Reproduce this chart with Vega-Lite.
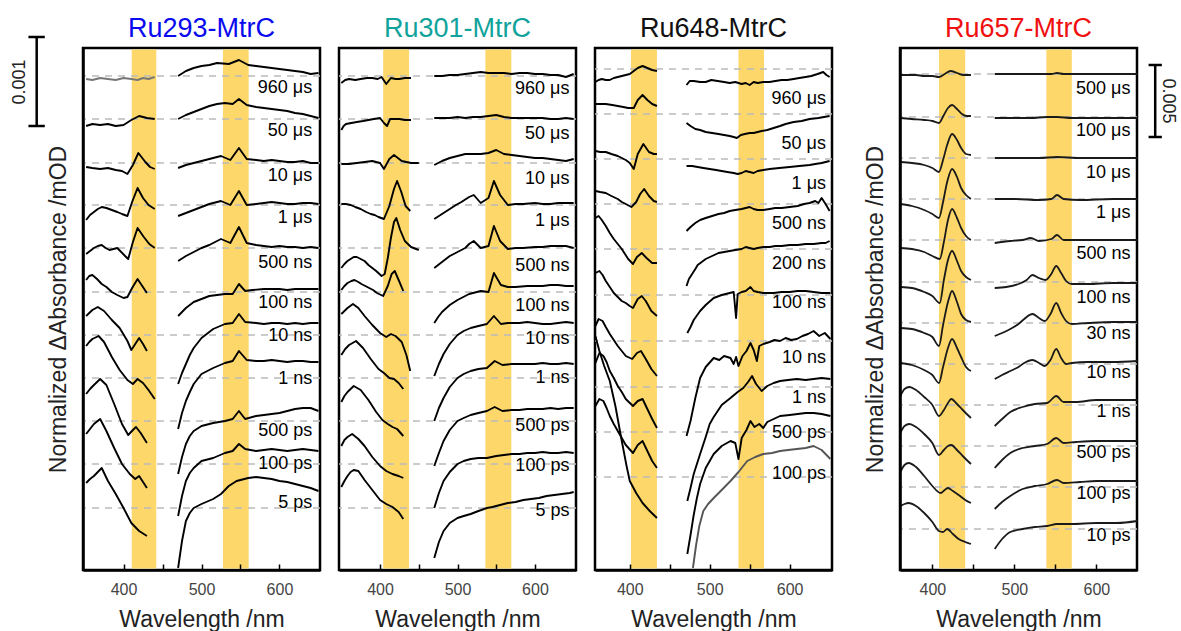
{
"$schema": "https://vega.github.io/schema/vega-lite/v6.json",
"autosize": {"type": "pad"},
"padding": {"left": 9, "top": 13, "right": 0, "bottom": 0},
"background": "white",
"spacing": 19,
"bounds": "flush",
"datasets": {
"c1": [
{"g":0,"x":352,"y":491},{"g":0,"x":360,"y":490},{"g":0,"x":370,"y":492},{"g":0,"x":380,"y":491},{"g":0,"x":390,"y":490},{"g":0,"x":400,"y":492},{"g":0,"x":410,"y":491},{"g":0,"x":418,"y":490},{"g":0,"x":425,"y":492},{"g":0,"x":432,"y":491},{"g":0,"x":440,"y":493},
{"g":1,"x":470,"y":494},{"g":1,"x":480,"y":499},{"g":1,"x":490,"y":502},{"g":1,"x":500,"y":504},{"g":1,"x":510,"y":505},{"g":1,"x":520,"y":507},{"g":1,"x":535,"y":506},{"g":1,"x":548,"y":510},{"g":1,"x":560,"y":505},{"g":1,"x":570,"y":504},{"g":1,"x":580,"y":503},{"g":1,"x":590,"y":502},{"g":1,"x":600,"y":501},{"g":1,"x":610,"y":500},{"g":1,"x":620,"y":499},{"g":1,"x":630,"y":498},{"g":1,"x":640,"y":496},{"g":1,"x":650,"y":497},
{"g":2,"x":352,"y":444},{"g":2,"x":360,"y":446},{"g":2,"x":370,"y":445},{"g":2,"x":380,"y":446},{"g":2,"x":390,"y":444},{"g":2,"x":400,"y":445},{"g":2,"x":410,"y":450},{"g":2,"x":420,"y":454},{"g":2,"x":430,"y":452},{"g":2,"x":440,"y":451},
{"g":3,"x":470,"y":451},{"g":3,"x":480,"y":455},{"g":3,"x":490,"y":458},{"g":3,"x":500,"y":461},{"g":3,"x":510,"y":464},{"g":3,"x":520,"y":466},{"g":3,"x":530,"y":467},{"g":3,"x":540,"y":466},{"g":3,"x":548,"y":471},{"g":3,"x":558,"y":465},{"g":3,"x":570,"y":463},{"g":3,"x":580,"y":462},{"g":3,"x":590,"y":461},{"g":3,"x":600,"y":460},{"g":3,"x":610,"y":459},{"g":3,"x":620,"y":457},{"g":3,"x":630,"y":456},{"g":3,"x":640,"y":454},{"g":3,"x":650,"y":452},
{"g":4,"x":352,"y":403},{"g":4,"x":360,"y":402},{"g":4,"x":370,"y":401},{"g":4,"x":380,"y":402},{"g":4,"x":390,"y":400},{"g":4,"x":398,"y":399},{"g":4,"x":405,"y":396},{"g":4,"x":412,"y":405},{"g":4,"x":419,"y":417},{"g":4,"x":428,"y":408},{"g":4,"x":434,"y":403},{"g":4,"x":440,"y":401},
{"g":5,"x":470,"y":402},{"g":5,"x":480,"y":405},{"g":5,"x":490,"y":407},{"g":5,"x":500,"y":409},{"g":5,"x":510,"y":411},{"g":5,"x":525,"y":414},{"g":5,"x":537,"y":410},{"g":5,"x":548,"y":422},{"g":5,"x":558,"y":411},{"g":5,"x":570,"y":410},{"g":5,"x":580,"y":409},{"g":5,"x":590,"y":410},{"g":5,"x":600,"y":409},{"g":5,"x":610,"y":408},{"g":5,"x":620,"y":408},{"g":5,"x":630,"y":409},{"g":5,"x":640,"y":407},{"g":5,"x":650,"y":407},
{"g":6,"x":352,"y":350},{"g":6,"x":357,"y":355},{"g":6,"x":362,"y":358},{"g":6,"x":367,"y":361},{"g":6,"x":372,"y":363},{"g":6,"x":378,"y":362},{"g":6,"x":385,"y":360},{"g":6,"x":392,"y":358},{"g":6,"x":398,"y":356},{"g":6,"x":405,"y":354},{"g":6,"x":411,"y":368},{"g":6,"x":418,"y":382},{"g":6,"x":425,"y":372},{"g":6,"x":432,"y":365},{"g":6,"x":440,"y":361},
{"g":7,"x":470,"y":354},{"g":7,"x":480,"y":357},{"g":7,"x":490,"y":360},{"g":7,"x":500,"y":363},{"g":7,"x":510,"y":366},{"g":7,"x":525,"y":369},{"g":7,"x":537,"y":365},{"g":7,"x":548,"y":379},{"g":7,"x":558,"y":365},{"g":7,"x":570,"y":366},{"g":7,"x":580,"y":367},{"g":7,"x":590,"y":368},{"g":7,"x":600,"y":367},{"g":7,"x":610,"y":366},{"g":7,"x":620,"y":366},{"g":7,"x":630,"y":367},{"g":7,"x":640,"y":367},{"g":7,"x":650,"y":366},
{"g":8,"x":352,"y":316},{"g":8,"x":357,"y":319},{"g":8,"x":362,"y":322},{"g":8,"x":367,"y":324},{"g":8,"x":372,"y":325},{"g":8,"x":377,"y":322},{"g":8,"x":382,"y":320},{"g":8,"x":387,"y":321},{"g":8,"x":392,"y":322},{"g":8,"x":397,"y":318},{"g":8,"x":402,"y":314},{"g":8,"x":406,"y":311},{"g":8,"x":412,"y":328},{"g":8,"x":418,"y":342},{"g":8,"x":426,"y":333},{"g":8,"x":433,"y":326},{"g":8,"x":440,"y":322},
{"g":9,"x":470,"y":309},{"g":9,"x":480,"y":314},{"g":9,"x":490,"y":318},{"g":9,"x":500,"y":322},{"g":9,"x":510,"y":325},{"g":9,"x":525,"y":331},{"g":9,"x":537,"y":327},{"g":9,"x":548,"y":343},{"g":9,"x":558,"y":327},{"g":9,"x":570,"y":325},{"g":9,"x":580,"y":324},{"g":9,"x":590,"y":323},{"g":9,"x":600,"y":324},{"g":9,"x":610,"y":323},{"g":9,"x":620,"y":323},{"g":9,"x":630,"y":322},{"g":9,"x":640,"y":323},{"g":9,"x":650,"y":322},
{"g":10,"x":352,"y":290},{"g":10,"x":356,"y":294},{"g":10,"x":360,"y":295},{"g":10,"x":366,"y":291},{"g":10,"x":372,"y":286},{"g":10,"x":378,"y":283},{"g":10,"x":385,"y":278},{"g":10,"x":392,"y":275},{"g":10,"x":400,"y":272},{"g":10,"x":405,"y":273},{"g":10,"x":411,"y":282},{"g":10,"x":418,"y":291},{"g":10,"x":424,"y":284},{"g":10,"x":430,"y":277},
{"g":11,"x":470,"y":254},{"g":11,"x":475,"y":258},{"g":11,"x":480,"y":262},{"g":11,"x":490,"y":268},{"g":11,"x":500,"y":271},{"g":11,"x":510,"y":274},{"g":11,"x":520,"y":275},{"g":11,"x":530,"y":276},{"g":11,"x":540,"y":276},{"g":11,"x":548,"y":286},{"g":11,"x":556,"y":279},{"g":11,"x":565,"y":280},{"g":11,"x":580,"y":281},{"g":11,"x":590,"y":281},{"g":11,"x":600,"y":281},{"g":11,"x":610,"y":280},{"g":11,"x":620,"y":281},{"g":11,"x":635,"y":281},{"g":11,"x":650,"y":281},
{"g":12,"x":352,"y":254},{"g":12,"x":356,"y":257},{"g":12,"x":360,"y":260},{"g":12,"x":367,"y":263},{"g":12,"x":375,"y":259},{"g":12,"x":385,"y":250},{"g":12,"x":395,"y":242},{"g":12,"x":405,"y":229},{"g":12,"x":410,"y":220},{"g":12,"x":415,"y":226},{"g":12,"x":420,"y":232},{"g":12,"x":425,"y":226},{"g":12,"x":430,"y":219},
{"g":13,"x":470,"y":186},{"g":13,"x":475,"y":197},{"g":13,"x":480,"y":206},{"g":13,"x":485,"y":215},{"g":13,"x":490,"y":222},{"g":13,"x":500,"y":232},{"g":13,"x":515,"y":241},{"g":13,"x":530,"y":246},{"g":13,"x":540,"y":247},{"g":13,"x":548,"y":256},{"g":13,"x":556,"y":248},{"g":13,"x":570,"y":247},{"g":13,"x":580,"y":246},{"g":13,"x":590,"y":247},{"g":13,"x":600,"y":247},{"g":13,"x":610,"y":246},{"g":13,"x":620,"y":247},{"g":13,"x":630,"y":246},{"g":13,"x":640,"y":247},{"g":13,"x":650,"y":247},
{"g":14,"x":352,"y":224},{"g":14,"x":356,"y":228},{"g":14,"x":360,"y":231},{"g":14,"x":368,"y":234},{"g":14,"x":375,"y":228},{"g":14,"x":385,"y":213},{"g":14,"x":395,"y":200},{"g":14,"x":405,"y":190},{"g":14,"x":412,"y":186},{"g":14,"x":418,"y":191},{"g":14,"x":425,"y":187},{"g":14,"x":432,"y":180},{"g":14,"x":440,"y":171},
{"g":15,"x":470,"y":141},{"g":15,"x":475,"y":157},{"g":15,"x":480,"y":169},{"g":15,"x":485,"y":178},{"g":15,"x":490,"y":186},{"g":15,"x":500,"y":196},{"g":15,"x":515,"y":202},{"g":15,"x":530,"y":207},{"g":15,"x":540,"y":209},{"g":15,"x":548,"y":219},{"g":15,"x":558,"y":210},{"g":15,"x":570,"y":209},{"g":15,"x":580,"y":209},{"g":15,"x":590,"y":210},{"g":15,"x":600,"y":209},{"g":15,"x":610,"y":208},{"g":15,"x":620,"y":209},{"g":15,"x":630,"y":209},{"g":15,"x":640,"y":208},{"g":15,"x":650,"y":208},
{"g":16,"x":352,"y":176},{"g":16,"x":357,"y":181},{"g":16,"x":362,"y":185},{"g":16,"x":370,"y":191},{"g":16,"x":378,"y":185},{"g":16,"x":388,"y":166},{"g":16,"x":398,"y":146},{"g":16,"x":406,"y":135},{"g":16,"x":412,"y":140},{"g":16,"x":416,"y":143},{"g":16,"x":422,"y":137},{"g":16,"x":430,"y":127},
{"g":17,"x":470,"y":96},{"g":17,"x":475,"y":113},{"g":17,"x":480,"y":126},{"g":17,"x":485,"y":134},{"g":17,"x":490,"y":139},{"g":17,"x":500,"y":144},{"g":17,"x":515,"y":147},{"g":17,"x":530,"y":149},{"g":17,"x":540,"y":151},{"g":17,"x":548,"y":159},{"g":17,"x":556,"y":151},{"g":17,"x":570,"y":154},{"g":17,"x":580,"y":155},{"g":17,"x":590,"y":156},{"g":17,"x":600,"y":157},{"g":17,"x":610,"y":159},{"g":17,"x":620,"y":161},{"g":17,"x":630,"y":162},{"g":17,"x":640,"y":162},{"g":17,"x":650,"y":159},
{"g":18,"x":352,"y":136},{"g":18,"x":357,"y":141},{"g":18,"x":362,"y":146},{"g":18,"x":370,"y":151},{"g":18,"x":378,"y":139},{"g":18,"x":388,"y":122},{"g":18,"x":398,"y":106},{"g":18,"x":408,"y":96},{"g":18,"x":415,"y":91},{"g":18,"x":420,"y":94},{"g":18,"x":425,"y":88},{"g":18,"x":430,"y":82},
{"g":19,"x":470,"y":54},{"g":19,"x":475,"y":74},{"g":19,"x":480,"y":89},{"g":19,"x":485,"y":97},{"g":19,"x":490,"y":102},{"g":19,"x":500,"y":109},{"g":19,"x":515,"y":112},{"g":19,"x":530,"y":117},{"g":19,"x":540,"y":119},{"g":19,"x":548,"y":126},{"g":19,"x":556,"y":121},{"g":19,"x":570,"y":119},{"g":19,"x":580,"y":120},{"g":19,"x":590,"y":121},{"g":19,"x":600,"y":120},{"g":19,"x":610,"y":119},{"g":19,"x":620,"y":120},{"g":19,"x":630,"y":121},{"g":19,"x":640,"y":120},{"g":19,"x":650,"y":119},
{"g":20,"x":352,"y":87},{"g":20,"x":357,"y":91},{"g":20,"x":362,"y":94},{"g":20,"x":367,"y":98},{"g":20,"x":372,"y":102},{"g":20,"x":380,"y":89},{"g":20,"x":390,"y":76},{"g":20,"x":400,"y":62},{"g":20,"x":410,"y":47},{"g":20,"x":420,"y":39},{"g":20,"x":430,"y":34},
{"g":21,"x":470,"y":2},{"g":21,"x":475,"y":29},{"g":21,"x":480,"y":49},{"g":21,"x":485,"y":57},{"g":21,"x":490,"y":62},{"g":21,"x":500,"y":66},{"g":21,"x":515,"y":71},{"g":21,"x":525,"y":76},{"g":21,"x":535,"y":84},{"g":21,"x":545,"y":89},{"g":21,"x":560,"y":92},{"g":21,"x":570,"y":93},{"g":21,"x":580,"y":92},{"g":21,"x":590,"y":91},{"g":21,"x":600,"y":89},{"g":21,"x":610,"y":88},{"g":21,"x":620,"y":86},{"g":21,"x":630,"y":84},{"g":21,"x":640,"y":82},{"g":21,"x":650,"y":79}
],
"c2": [
{"g":0,"x":350,"y":487},{"g":0,"x":355,"y":490},{"g":0,"x":360,"y":491},{"g":0,"x":368,"y":490},{"g":0,"x":375,"y":491},{"g":0,"x":383,"y":492},{"g":0,"x":390,"y":492},{"g":0,"x":397,"y":491},{"g":0,"x":402,"y":493},{"g":0,"x":408,"y":486},{"g":0,"x":414,"y":492},{"g":0,"x":420,"y":491},{"g":0,"x":425,"y":491},{"g":0,"x":432,"y":492},{"g":0,"x":440,"y":492},
{"g":1,"x":470,"y":494},{"g":1,"x":480,"y":494},{"g":1,"x":490,"y":495},{"g":1,"x":500,"y":495},{"g":1,"x":510,"y":496},{"g":1,"x":520,"y":497},{"g":1,"x":530,"y":498},{"g":1,"x":540,"y":497},{"g":1,"x":550,"y":497},{"g":1,"x":560,"y":497},{"g":1,"x":570,"y":496},{"g":1,"x":580,"y":497},{"g":1,"x":590,"y":497},{"g":1,"x":600,"y":496},{"g":1,"x":610,"y":496},{"g":1,"x":620,"y":495},{"g":1,"x":630,"y":495},{"g":1,"x":640,"y":493},{"g":1,"x":650,"y":496},
{"g":2,"x":350,"y":440},{"g":2,"x":353,"y":444},{"g":2,"x":356,"y":446},{"g":2,"x":363,"y":447},{"g":2,"x":370,"y":448},{"g":2,"x":378,"y":449},{"g":2,"x":385,"y":450},{"g":2,"x":392,"y":451},{"g":2,"x":400,"y":452},{"g":2,"x":405,"y":447},{"g":2,"x":409,"y":444},{"g":2,"x":413,"y":451},{"g":2,"x":419,"y":451},{"g":2,"x":425,"y":451},{"g":2,"x":432,"y":450},{"g":2,"x":440,"y":450},
{"g":3,"x":470,"y":452},{"g":3,"x":480,"y":452},{"g":3,"x":490,"y":452},{"g":3,"x":500,"y":453},{"g":3,"x":510,"y":452},{"g":3,"x":520,"y":453},{"g":3,"x":530,"y":453},{"g":3,"x":540,"y":454},{"g":3,"x":550,"y":455},{"g":3,"x":560,"y":453},{"g":3,"x":570,"y":452},{"g":3,"x":580,"y":452},{"g":3,"x":590,"y":452},{"g":3,"x":600,"y":452},{"g":3,"x":610,"y":452},{"g":3,"x":620,"y":451},{"g":3,"x":630,"y":451},{"g":3,"x":640,"y":452},{"g":3,"x":650,"y":451},
{"g":4,"x":350,"y":406},{"g":4,"x":360,"y":406},{"g":4,"x":370,"y":407},{"g":4,"x":380,"y":408},{"g":4,"x":390,"y":409},{"g":4,"x":400,"y":407},{"g":4,"x":405,"y":401},{"g":4,"x":412,"y":411},{"g":4,"x":418,"y":415},{"g":4,"x":428,"y":409},{"g":4,"x":440,"y":407},{"g":4,"x":450,"y":407},
{"g":5,"x":470,"y":405},{"g":5,"x":480,"y":409},{"g":5,"x":490,"y":412},{"g":5,"x":500,"y":414},{"g":5,"x":510,"y":416},{"g":5,"x":520,"y":416},{"g":5,"x":530,"y":416},{"g":5,"x":540,"y":417},{"g":5,"x":550,"y":420},{"g":5,"x":560,"y":416},{"g":5,"x":570,"y":415},{"g":5,"x":580,"y":414},{"g":5,"x":590,"y":413},{"g":5,"x":600,"y":412},{"g":5,"x":610,"y":412},{"g":5,"x":620,"y":411},{"g":5,"x":630,"y":410},{"g":5,"x":640,"y":409},{"g":5,"x":650,"y":411},
{"g":6,"x":350,"y":366},{"g":6,"x":356,"y":366},{"g":6,"x":362,"y":365},{"g":6,"x":368,"y":363},{"g":6,"x":375,"y":361},{"g":6,"x":382,"y":358},{"g":6,"x":388,"y":356},{"g":6,"x":393,"y":355},{"g":6,"x":398,"y":353},{"g":6,"x":405,"y":351},{"g":6,"x":412,"y":364},{"g":6,"x":418,"y":381},{"g":6,"x":422,"y":389},{"g":6,"x":427,"y":379},{"g":6,"x":433,"y":364},{"g":6,"x":439,"y":359},
{"g":7,"x":470,"y":351},{"g":7,"x":480,"y":356},{"g":7,"x":490,"y":361},{"g":7,"x":498,"y":365},{"g":7,"x":505,"y":368},{"g":7,"x":515,"y":373},{"g":7,"x":521,"y":375},{"g":7,"x":530,"y":367},{"g":7,"x":540,"y":372},{"g":7,"x":547,"y":389},{"g":7,"x":555,"y":375},{"g":7,"x":565,"y":365},{"g":7,"x":575,"y":366},{"g":7,"x":585,"y":366},{"g":7,"x":600,"y":367},{"g":7,"x":610,"y":366},{"g":7,"x":620,"y":366},{"g":7,"x":630,"y":367},{"g":7,"x":640,"y":367},{"g":7,"x":650,"y":367},
{"g":8,"x":350,"y":302},{"g":8,"x":354,"y":306},{"g":8,"x":358,"y":309},{"g":8,"x":362,"y":311},{"g":8,"x":366,"y":313},{"g":8,"x":370,"y":313},{"g":8,"x":375,"y":311},{"g":8,"x":380,"y":309},{"g":8,"x":385,"y":305},{"g":8,"x":390,"y":302},{"g":8,"x":395,"y":299},{"g":8,"x":402,"y":294},{"g":8,"x":406,"y":296},{"g":8,"x":410,"y":312},{"g":8,"x":414,"y":332},{"g":8,"x":418,"y":348},{"g":8,"x":421,"y":352},{"g":8,"x":426,"y":340},{"g":8,"x":432,"y":329},{"g":8,"x":440,"y":323},{"g":8,"x":450,"y":320},
{"g":9,"x":470,"y":302},{"g":9,"x":480,"y":308},{"g":9,"x":490,"y":314},{"g":9,"x":500,"y":318},{"g":9,"x":510,"y":322},{"g":9,"x":515,"y":326},{"g":9,"x":521,"y":329},{"g":9,"x":530,"y":322},{"g":9,"x":540,"y":324},{"g":9,"x":547,"y":344},{"g":9,"x":555,"y":329},{"g":9,"x":565,"y":321},{"g":9,"x":575,"y":322},{"g":9,"x":585,"y":322},{"g":9,"x":600,"y":323},{"g":9,"x":610,"y":323},{"g":9,"x":620,"y":324},{"g":9,"x":630,"y":324},{"g":9,"x":640,"y":324},{"g":9,"x":650,"y":322},
{"g":10,"x":350,"y":280},{"g":10,"x":354,"y":284},{"g":10,"x":358,"y":287},{"g":10,"x":363,"y":289},{"g":10,"x":367,"y":290},{"g":10,"x":372,"y":288},{"g":10,"x":376,"y":286},{"g":10,"x":381,"y":284},{"g":10,"x":386,"y":282},{"g":10,"x":391,"y":280},{"g":10,"x":396,"y":277},{"g":10,"x":404,"y":274},{"g":10,"x":410,"y":284},{"g":10,"x":415,"y":296},{"g":10,"x":419,"y":299},{"g":10,"x":424,"y":290},{"g":10,"x":430,"y":279},
{"g":11,"x":470,"y":247},{"g":11,"x":475,"y":253},{"g":11,"x":480,"y":258},{"g":11,"x":490,"y":265},{"g":11,"x":500,"y":270},{"g":11,"x":515,"y":276},{"g":11,"x":530,"y":279},{"g":11,"x":540,"y":278},{"g":11,"x":547,"y":297},{"g":11,"x":556,"y":285},{"g":11,"x":565,"y":283},{"g":11,"x":575,"y":283},{"g":11,"x":590,"y":284},{"g":11,"x":600,"y":284},{"g":11,"x":610,"y":284},{"g":11,"x":620,"y":285},{"g":11,"x":630,"y":285},{"g":11,"x":640,"y":284},{"g":11,"x":650,"y":284},
{"g":12,"x":350,"y":256},{"g":12,"x":354,"y":259},{"g":12,"x":358,"y":262},{"g":12,"x":365,"y":266},{"g":12,"x":372,"y":262},{"g":12,"x":380,"y":254},{"g":12,"x":390,"y":245},{"g":12,"x":400,"y":237},{"g":12,"x":408,"y":233},{"g":12,"x":414,"y":236},{"g":12,"x":420,"y":234},{"g":12,"x":428,"y":228},{"g":12,"x":434,"y":215},{"g":12,"x":439,"y":199},
{"g":13,"x":470,"y":194},{"g":13,"x":476,"y":206},{"g":13,"x":482,"y":216},{"g":13,"x":490,"y":226},{"g":13,"x":500,"y":235},{"g":13,"x":508,"y":239},{"g":13,"x":517,"y":242},{"g":13,"x":527,"y":244},{"g":13,"x":538,"y":246},{"g":13,"x":547,"y":254},{"g":13,"x":556,"y":246},{"g":13,"x":565,"y":247},{"g":13,"x":580,"y":247},{"g":13,"x":590,"y":248},{"g":13,"x":600,"y":247},{"g":13,"x":610,"y":246},{"g":13,"x":620,"y":246},{"g":13,"x":630,"y":247},{"g":13,"x":640,"y":248},{"g":13,"x":650,"y":247},
{"g":14,"x":350,"y":215},{"g":14,"x":355,"y":221},{"g":14,"x":360,"y":225},{"g":14,"x":369,"y":229},{"g":14,"x":378,"y":222},{"g":14,"x":388,"y":211},{"g":14,"x":398,"y":201},{"g":14,"x":405,"y":197},{"g":14,"x":412,"y":192},{"g":14,"x":418,"y":191},{"g":14,"x":424,"y":187},{"g":14,"x":430,"y":181},
{"g":15,"x":470,"y":149},{"g":15,"x":476,"y":162},{"g":15,"x":482,"y":172},{"g":15,"x":490,"y":183},{"g":15,"x":500,"y":192},{"g":15,"x":508,"y":196},{"g":15,"x":517,"y":199},{"g":15,"x":527,"y":201},{"g":15,"x":538,"y":202},{"g":15,"x":548,"y":209},{"g":15,"x":558,"y":205},{"g":15,"x":570,"y":206},{"g":15,"x":580,"y":206},{"g":15,"x":590,"y":206},{"g":15,"x":600,"y":206},{"g":15,"x":610,"y":207},{"g":15,"x":620,"y":206},{"g":15,"x":630,"y":206},{"g":15,"x":640,"y":207},{"g":15,"x":650,"y":206},
{"g":16,"x":350,"y":168},{"g":16,"x":354,"y":174},{"g":16,"x":358,"y":178},{"g":16,"x":366,"y":184},{"g":16,"x":375,"y":180},{"g":16,"x":385,"y":170},{"g":16,"x":395,"y":158},{"g":16,"x":403,"y":150},{"g":16,"x":410,"y":146},{"g":16,"x":416,"y":143},{"g":16,"x":422,"y":141},{"g":16,"x":430,"y":134},
{"g":17,"x":470,"y":104},{"g":17,"x":476,"y":117},{"g":17,"x":482,"y":129},{"g":17,"x":490,"y":140},{"g":17,"x":500,"y":149},{"g":17,"x":508,"y":152},{"g":17,"x":517,"y":155},{"g":17,"x":527,"y":157},{"g":17,"x":538,"y":159},{"g":17,"x":548,"y":163},{"g":17,"x":558,"y":159},{"g":17,"x":570,"y":160},{"g":17,"x":580,"y":160},{"g":17,"x":590,"y":161},{"g":17,"x":600,"y":161},{"g":17,"x":610,"y":161},{"g":17,"x":620,"y":162},{"g":17,"x":630,"y":161},{"g":17,"x":640,"y":162},{"g":17,"x":650,"y":162},
{"g":18,"x":350,"y":124},{"g":18,"x":354,"y":130},{"g":18,"x":358,"y":133},{"g":18,"x":364,"y":136},{"g":18,"x":372,"y":131},{"g":18,"x":380,"y":124},{"g":18,"x":390,"y":113},{"g":18,"x":400,"y":104},{"g":18,"x":408,"y":99},{"g":18,"x":416,"y":96},{"g":18,"x":424,"y":94},{"g":18,"x":430,"y":92},
{"g":19,"x":470,"y":62},{"g":19,"x":476,"y":77},{"g":19,"x":482,"y":89},{"g":19,"x":490,"y":98},{"g":19,"x":500,"y":106},{"g":19,"x":508,"y":109},{"g":19,"x":517,"y":111},{"g":19,"x":527,"y":112},{"g":19,"x":538,"y":112},{"g":19,"x":550,"y":114},{"g":19,"x":560,"y":115},{"g":19,"x":570,"y":116},{"g":19,"x":580,"y":116},{"g":19,"x":590,"y":117},{"g":19,"x":600,"y":117},{"g":19,"x":610,"y":118},{"g":19,"x":620,"y":117},{"g":19,"x":630,"y":117},{"g":19,"x":640,"y":118},{"g":19,"x":650,"y":117},
{"g":20,"x":350,"y":83},{"g":20,"x":354,"y":89},{"g":20,"x":358,"y":94},{"g":20,"x":362,"y":98},{"g":20,"x":366,"y":100},{"g":20,"x":372,"y":99},{"g":20,"x":380,"y":90},{"g":20,"x":390,"y":80},{"g":20,"x":400,"y":70},{"g":20,"x":408,"y":66},{"g":20,"x":416,"y":63},{"g":20,"x":424,"y":58},{"g":20,"x":430,"y":51},
{"g":21,"x":470,"y":12},{"g":21,"x":476,"y":28},{"g":21,"x":482,"y":39},{"g":21,"x":490,"y":47},{"g":21,"x":500,"y":52},{"g":21,"x":508,"y":54},{"g":21,"x":517,"y":56},{"g":21,"x":527,"y":59},{"g":21,"x":538,"y":62},{"g":21,"x":545,"y":63},{"g":21,"x":555,"y":65},{"g":21,"x":565,"y":67},{"g":21,"x":575,"y":68},{"g":21,"x":585,"y":70},{"g":21,"x":595,"y":71},{"g":21,"x":605,"y":72},{"g":21,"x":615,"y":74},{"g":21,"x":625,"y":75},{"g":21,"x":635,"y":76},{"g":21,"x":645,"y":77},{"g":21,"x":650,"y":78}
],
"c3": [
{"g":0,"x":357,"y":488},{"g":0,"x":361,"y":490},{"g":0,"x":365,"y":491},{"g":0,"x":370,"y":490},{"g":0,"x":375,"y":490},{"g":0,"x":380,"y":492},{"g":0,"x":385,"y":493},{"g":0,"x":390,"y":494},{"g":0,"x":395,"y":495},{"g":0,"x":400,"y":496},{"g":0,"x":405,"y":499},{"g":0,"x":410,"y":502},{"g":0,"x":416,"y":504},{"g":0,"x":422,"y":502},{"g":0,"x":428,"y":500},{"g":0,"x":434,"y":499},
{"g":1,"x":471,"y":485},{"g":1,"x":475,"y":489},{"g":1,"x":480,"y":489},{"g":1,"x":488,"y":488},{"g":1,"x":495,"y":488},{"g":1,"x":502,"y":490},{"g":1,"x":510,"y":489},{"g":1,"x":518,"y":488},{"g":1,"x":525,"y":487},{"g":1,"x":532,"y":488},{"g":1,"x":540,"y":486},{"g":1,"x":545,"y":487},{"g":1,"x":550,"y":485},{"g":1,"x":555,"y":488},{"g":1,"x":560,"y":487},{"g":1,"x":567,"y":488},{"g":1,"x":575,"y":488},{"g":1,"x":582,"y":489},{"g":1,"x":590,"y":490},{"g":1,"x":597,"y":490},{"g":1,"x":605,"y":491},{"g":1,"x":612,"y":492},{"g":1,"x":620,"y":493},{"g":1,"x":627,"y":494},{"g":1,"x":635,"y":496},{"g":1,"x":642,"y":498},{"g":1,"x":646,"y":495},{"g":1,"x":650,"y":493},
{"g":2,"x":357,"y":466},{"g":2,"x":362,"y":466},{"g":2,"x":370,"y":466},{"g":2,"x":378,"y":465},{"g":2,"x":385,"y":464},{"g":2,"x":392,"y":463},{"g":2,"x":398,"y":462},{"g":2,"x":405,"y":462},{"g":2,"x":410,"y":470},{"g":2,"x":416,"y":475},{"g":2,"x":422,"y":470},{"g":2,"x":428,"y":466},{"g":2,"x":434,"y":464},
{"g":3,"x":471,"y":447},{"g":3,"x":476,"y":444},{"g":3,"x":482,"y":441},{"g":3,"x":488,"y":440},{"g":3,"x":495,"y":438},{"g":3,"x":503,"y":437},{"g":3,"x":511,"y":436},{"g":3,"x":518,"y":435},{"g":3,"x":525,"y":434},{"g":3,"x":530,"y":433},{"g":3,"x":534,"y":432},{"g":3,"x":539,"y":435},{"g":3,"x":544,"y":436},{"g":3,"x":550,"y":437},{"g":3,"x":555,"y":437},{"g":3,"x":560,"y":438},{"g":3,"x":565,"y":439},{"g":3,"x":572,"y":440},{"g":3,"x":580,"y":442},{"g":3,"x":588,"y":444},{"g":3,"x":595,"y":446},{"g":3,"x":605,"y":448},{"g":3,"x":615,"y":449},{"g":3,"x":625,"y":451},{"g":3,"x":636,"y":452},{"g":3,"x":643,"y":453},{"g":3,"x":650,"y":454},
{"g":4,"x":357,"y":419},{"g":4,"x":363,"y":418},{"g":4,"x":370,"y":418},{"g":4,"x":377,"y":416},{"g":4,"x":385,"y":414},{"g":4,"x":390,"y":412},{"g":4,"x":395,"y":410},{"g":4,"x":400,"y":407},{"g":4,"x":405,"y":401},{"g":4,"x":410,"y":416},{"g":4,"x":417,"y":426},{"g":4,"x":424,"y":418},{"g":4,"x":430,"y":416},{"g":4,"x":434,"y":416},
{"g":5,"x":471,"y":404},{"g":5,"x":478,"y":404},{"g":5,"x":485,"y":403},{"g":5,"x":492,"y":402},{"g":5,"x":500,"y":401},{"g":5,"x":508,"y":400},{"g":5,"x":515,"y":399},{"g":5,"x":522,"y":398},{"g":5,"x":530,"y":397},{"g":5,"x":535,"y":396},{"g":5,"x":540,"y":397},{"g":5,"x":545,"y":399},{"g":5,"x":550,"y":398},{"g":5,"x":555,"y":397},{"g":5,"x":560,"y":399},{"g":5,"x":567,"y":400},{"g":5,"x":575,"y":401},{"g":5,"x":587,"y":402},{"g":5,"x":600,"y":403},{"g":5,"x":612,"y":404},{"g":5,"x":625,"y":405},{"g":5,"x":632,"y":406},{"g":5,"x":640,"y":407},{"g":5,"x":645,"y":408},{"g":5,"x":650,"y":409},
{"g":6,"x":357,"y":379},{"g":6,"x":363,"y":378},{"g":6,"x":370,"y":377},{"g":6,"x":377,"y":374},{"g":6,"x":385,"y":371},{"g":6,"x":390,"y":368},{"g":6,"x":395,"y":366},{"g":6,"x":402,"y":363},{"g":6,"x":408,"y":368},{"g":6,"x":413,"y":376},{"g":6,"x":418,"y":381},{"g":6,"x":424,"y":374},{"g":6,"x":430,"y":369},{"g":6,"x":434,"y":368},
{"g":7,"x":471,"y":339},{"g":7,"x":476,"y":343},{"g":7,"x":482,"y":347},{"g":7,"x":488,"y":350},{"g":7,"x":495,"y":352},{"g":7,"x":503,"y":354},{"g":7,"x":511,"y":356},{"g":7,"x":518,"y":357},{"g":7,"x":525,"y":359},{"g":7,"x":532,"y":360},{"g":7,"x":540,"y":361},{"g":7,"x":545,"y":362},{"g":7,"x":550,"y":363},{"g":7,"x":555,"y":361},{"g":7,"x":560,"y":360},{"g":7,"x":567,"y":360},{"g":7,"x":575,"y":361},{"g":7,"x":582,"y":362},{"g":7,"x":590,"y":362},{"g":7,"x":600,"y":363},{"g":7,"x":610,"y":364},{"g":7,"x":618,"y":366},{"g":7,"x":625,"y":367},{"g":7,"x":632,"y":369},{"g":7,"x":636,"y":367},{"g":7,"x":640,"y":372},{"g":7,"x":645,"y":366},{"g":7,"x":650,"y":359},
{"g":8,"x":357,"y":352},{"g":8,"x":361,"y":354},{"g":8,"x":365,"y":350},{"g":8,"x":370,"y":344},{"g":8,"x":375,"y":337},{"g":8,"x":380,"y":331},{"g":8,"x":385,"y":326},{"g":8,"x":390,"y":321},{"g":8,"x":394,"y":316},{"g":8,"x":398,"y":311},{"g":8,"x":404,"y":306},{"g":8,"x":409,"y":313},{"g":8,"x":415,"y":317},{"g":8,"x":421,"y":312},{"g":8,"x":428,"y":307},{"g":8,"x":434,"y":307},
{"g":9,"x":471,"y":284},{"g":9,"x":474,"y":291},{"g":9,"x":478,"y":296},{"g":9,"x":482,"y":301},{"g":9,"x":485,"y":305},{"g":9,"x":490,"y":308},{"g":9,"x":495,"y":311},{"g":9,"x":503,"y":314},{"g":9,"x":511,"y":317},{"g":9,"x":518,"y":318},{"g":9,"x":525,"y":319},{"g":9,"x":532,"y":320},{"g":9,"x":540,"y":321},{"g":9,"x":545,"y":323},{"g":9,"x":550,"y":322},{"g":9,"x":555,"y":321},{"g":9,"x":560,"y":322},{"g":9,"x":567,"y":323},{"g":9,"x":575,"y":323},{"g":9,"x":582,"y":324},{"g":9,"x":590,"y":324},{"g":9,"x":600,"y":325},{"g":9,"x":610,"y":325},{"g":9,"x":620,"y":326},{"g":9,"x":630,"y":326},{"g":9,"x":640,"y":327},{"g":9,"x":645,"y":327},{"g":9,"x":650,"y":329},
{"g":10,"x":357,"y":297},{"g":10,"x":362,"y":299},{"g":10,"x":366,"y":295},{"g":10,"x":370,"y":289},{"g":10,"x":375,"y":283},{"g":10,"x":380,"y":277},{"g":10,"x":385,"y":273},{"g":10,"x":390,"y":269},{"g":10,"x":395,"y":267},{"g":10,"x":400,"y":264},{"g":10,"x":404,"y":262},{"g":10,"x":410,"y":271},{"g":10,"x":415,"y":274},{"g":10,"x":420,"y":269},{"g":10,"x":427,"y":259},{"g":10,"x":434,"y":254},
{"g":11,"x":472,"y":237},{"g":11,"x":476,"y":243},{"g":11,"x":480,"y":250},{"g":11,"x":488,"y":259},{"g":11,"x":495,"y":265},{"g":11,"x":505,"y":272},{"g":11,"x":515,"y":275},{"g":11,"x":525,"y":277},{"g":11,"x":530,"y":278},{"g":11,"x":533,"y":252},{"g":11,"x":535,"y":276},{"g":11,"x":540,"y":278},{"g":11,"x":545,"y":279},{"g":11,"x":551,"y":283},{"g":11,"x":555,"y":279},{"g":11,"x":560,"y":278},{"g":11,"x":567,"y":277},{"g":11,"x":575,"y":277},{"g":11,"x":580,"y":277},{"g":11,"x":590,"y":278},{"g":11,"x":600,"y":278},{"g":11,"x":610,"y":279},{"g":11,"x":620,"y":279},{"g":11,"x":630,"y":278},{"g":11,"x":640,"y":277},{"g":11,"x":651,"y":277},
{"g":12,"x":357,"y":244},{"g":12,"x":361,"y":251},{"g":12,"x":366,"y":249},{"g":12,"x":370,"y":243},{"g":12,"x":375,"y":236},{"g":12,"x":380,"y":230},{"g":12,"x":385,"y":224},{"g":12,"x":390,"y":219},{"g":12,"x":395,"y":214},{"g":12,"x":403,"y":211},{"g":12,"x":409,"y":217},{"g":12,"x":414,"y":219},{"g":12,"x":420,"y":211},{"g":12,"x":427,"y":201},{"g":12,"x":434,"y":194},
{"g":13,"x":471,"y":134},{"g":13,"x":476,"y":149},{"g":13,"x":482,"y":172},{"g":13,"x":488,"y":192},{"g":13,"x":495,"y":203},{"g":13,"x":505,"y":212},{"g":13,"x":512,"y":210},{"g":13,"x":518,"y":214},{"g":13,"x":526,"y":212},{"g":13,"x":530,"y":206},{"g":13,"x":533,"y":213},{"g":13,"x":536,"y":204},{"g":13,"x":541,"y":214},{"g":13,"x":546,"y":219},{"g":13,"x":551,"y":227},{"g":13,"x":555,"y":220},{"g":13,"x":559,"y":209},{"g":13,"x":562,"y":224},{"g":13,"x":567,"y":226},{"g":13,"x":575,"y":228},{"g":13,"x":581,"y":230},{"g":13,"x":588,"y":229},{"g":13,"x":595,"y":232},{"g":13,"x":602,"y":230},{"g":13,"x":609,"y":231},{"g":13,"x":616,"y":234},{"g":13,"x":623,"y":236},{"g":13,"x":630,"y":239},{"g":13,"x":637,"y":234},{"g":13,"x":644,"y":237},{"g":13,"x":651,"y":231},
{"g":14,"x":357,"y":207},{"g":14,"x":362,"y":217},{"g":14,"x":367,"y":214},{"g":14,"x":371,"y":208},{"g":14,"x":375,"y":199},{"g":14,"x":380,"y":192},{"g":14,"x":385,"y":184},{"g":14,"x":390,"y":178},{"g":14,"x":395,"y":171},{"g":14,"x":404,"y":164},{"g":14,"x":410,"y":169},{"g":14,"x":416,"y":171},{"g":14,"x":422,"y":161},{"g":14,"x":428,"y":151},{"g":14,"x":434,"y":142},
{"g":15,"x":472,"y":69},{"g":15,"x":476,"y":82},{"g":15,"x":480,"y":96},{"g":15,"x":484,"y":106},{"g":15,"x":488,"y":116},{"g":15,"x":495,"y":133},{"g":15,"x":500,"y":146},{"g":15,"x":505,"y":153},{"g":15,"x":515,"y":165},{"g":15,"x":526,"y":172},{"g":15,"x":535,"y":178},{"g":15,"x":542,"y":182},{"g":15,"x":548,"y":188},{"g":15,"x":553,"y":194},{"g":15,"x":558,"y":186},{"g":15,"x":565,"y":179},{"g":15,"x":572,"y":184},{"g":15,"x":580,"y":187},{"g":15,"x":588,"y":189},{"g":15,"x":598,"y":190},{"g":15,"x":609,"y":191},{"g":15,"x":620,"y":190},{"g":15,"x":630,"y":191},{"g":15,"x":640,"y":192},{"g":15,"x":651,"y":191},
{"g":16,"x":357,"y":164},{"g":16,"x":362,"y":171},{"g":16,"x":367,"y":169},{"g":16,"x":371,"y":162},{"g":16,"x":375,"y":154},{"g":16,"x":380,"y":146},{"g":16,"x":385,"y":139},{"g":16,"x":390,"y":132},{"g":16,"x":395,"y":125},{"g":16,"x":404,"y":117},{"g":16,"x":410,"y":125},{"g":16,"x":416,"y":129},{"g":16,"x":422,"y":119},{"g":16,"x":428,"y":109},{"g":16,"x":434,"y":102},
{"g":17,"x":472,"y":16},{"g":17,"x":476,"y":35},{"g":17,"x":480,"y":55},{"g":17,"x":484,"y":72},{"g":17,"x":488,"y":86},{"g":17,"x":495,"y":102},{"g":17,"x":505,"y":116},{"g":17,"x":515,"y":124},{"g":17,"x":526,"y":129},{"g":17,"x":532,"y":127},{"g":17,"x":536,"y":111},{"g":17,"x":540,"y":132},{"g":17,"x":546,"y":140},{"g":17,"x":551,"y":149},{"g":17,"x":556,"y":143},{"g":17,"x":562,"y":146},{"g":17,"x":567,"y":142},{"g":17,"x":572,"y":148},{"g":17,"x":580,"y":151},{"g":17,"x":588,"y":154},{"g":17,"x":600,"y":155},{"g":17,"x":610,"y":156},{"g":17,"x":620,"y":157},{"g":17,"x":630,"y":157},{"g":17,"x":640,"y":156},{"g":17,"x":651,"y":154},
{"g":18,"x":357,"y":234},{"g":18,"x":362,"y":219},{"g":18,"x":368,"y":204},{"g":18,"x":375,"y":189},{"g":18,"x":382,"y":164},{"g":18,"x":390,"y":129},{"g":18,"x":396,"y":104},{"g":18,"x":400,"y":89},{"g":18,"x":408,"y":77},{"g":18,"x":416,"y":67},{"g":18,"x":425,"y":59},{"g":18,"x":434,"y":52},
{"g":19,"x":479,"y":2},{"g":19,"x":483,"y":25},{"g":19,"x":487,"y":44},{"g":19,"x":492,"y":59},{"g":19,"x":498,"y":66},{"g":19,"x":505,"y":72},{"g":19,"x":515,"y":80},{"g":19,"x":526,"y":89},{"g":19,"x":536,"y":98},{"g":19,"x":547,"y":109},{"g":19,"x":557,"y":113},{"g":19,"x":567,"y":116},{"g":19,"x":578,"y":117},{"g":19,"x":588,"y":119},{"g":19,"x":598,"y":120},{"g":19,"x":609,"y":121},{"g":19,"x":620,"y":122},{"g":19,"x":630,"y":124},{"g":19,"x":640,"y":120},{"g":19,"x":651,"y":111}
],
"c4": [
{"g":0,"x":361,"y":495},{"g":0,"x":370,"y":495},{"g":0,"x":380,"y":495},{"g":0,"x":390,"y":494},{"g":0,"x":400,"y":494},{"g":0,"x":408,"y":493},{"g":0,"x":415,"y":496},{"g":0,"x":422,"y":499},{"g":0,"x":430,"y":497},{"g":0,"x":438,"y":495},{"g":0,"x":447,"y":495},
{"g":1,"x":476,"y":496},{"g":1,"x":490,"y":496},{"g":1,"x":500,"y":496},{"g":1,"x":515,"y":496},{"g":1,"x":530,"y":496},{"g":1,"x":545,"y":496},{"g":1,"x":552,"y":497},{"g":1,"x":560,"y":496},{"g":1,"x":580,"y":496},{"g":1,"x":600,"y":496},{"g":1,"x":620,"y":496},{"g":1,"x":635,"y":496},{"g":1,"x":650,"y":496},
{"g":2,"x":361,"y":452},{"g":2,"x":375,"y":451},{"g":2,"x":390,"y":450},{"g":2,"x":400,"y":449},{"g":2,"x":408,"y":447},{"g":2,"x":414,"y":455},{"g":2,"x":419,"y":462},{"g":2,"x":424,"y":465},{"g":2,"x":430,"y":461},{"g":2,"x":436,"y":456},{"g":2,"x":442,"y":454},{"g":2,"x":447,"y":454},
{"g":3,"x":476,"y":452},{"g":3,"x":500,"y":452},{"g":3,"x":520,"y":452},{"g":3,"x":540,"y":453},{"g":3,"x":552,"y":453},{"g":3,"x":570,"y":452},{"g":3,"x":600,"y":452},{"g":3,"x":625,"y":452},{"g":3,"x":650,"y":452},
{"g":4,"x":361,"y":408},{"g":4,"x":375,"y":407},{"g":4,"x":390,"y":405},{"g":4,"x":400,"y":402},{"g":4,"x":408,"y":398},{"g":4,"x":413,"y":410},{"g":4,"x":418,"y":425},{"g":4,"x":424,"y":436},{"g":4,"x":430,"y":430},{"g":4,"x":435,"y":422},{"g":4,"x":441,"y":416},{"g":4,"x":447,"y":415},
{"g":5,"x":476,"y":412},{"g":5,"x":500,"y":412},{"g":5,"x":530,"y":412},{"g":5,"x":552,"y":413},{"g":5,"x":580,"y":412},{"g":5,"x":620,"y":412},{"g":5,"x":650,"y":412},
{"g":6,"x":361,"y":366},{"g":6,"x":375,"y":364},{"g":6,"x":390,"y":360},{"g":6,"x":400,"y":356},{"g":6,"x":408,"y":352},{"g":6,"x":413,"y":368},{"g":6,"x":418,"y":388},{"g":6,"x":424,"y":401},{"g":6,"x":430,"y":393},{"g":6,"x":435,"y":382},{"g":6,"x":441,"y":375},{"g":6,"x":447,"y":371},
{"g":7,"x":476,"y":371},{"g":7,"x":500,"y":371},{"g":7,"x":530,"y":370},{"g":7,"x":545,"y":371},{"g":7,"x":552,"y":375},{"g":7,"x":560,"y":371},{"g":7,"x":580,"y":370},{"g":7,"x":620,"y":371},{"g":7,"x":650,"y":371},
{"g":8,"x":361,"y":322},{"g":8,"x":375,"y":321},{"g":8,"x":390,"y":318},{"g":8,"x":400,"y":314},{"g":8,"x":409,"y":311},{"g":8,"x":414,"y":328},{"g":8,"x":419,"y":350},{"g":8,"x":424,"y":361},{"g":8,"x":430,"y":352},{"g":8,"x":435,"y":342},{"g":8,"x":441,"y":334},{"g":8,"x":447,"y":330},
{"g":9,"x":476,"y":327},{"g":9,"x":495,"y":329},{"g":9,"x":510,"y":330},{"g":9,"x":520,"y":332},{"g":9,"x":530,"y":329},{"g":9,"x":545,"y":331},{"g":9,"x":552,"y":335},{"g":9,"x":560,"y":330},{"g":9,"x":580,"y":330},{"g":9,"x":600,"y":330},{"g":9,"x":620,"y":330},{"g":9,"x":650,"y":330},
{"g":10,"x":361,"y":283},{"g":10,"x":375,"y":282},{"g":10,"x":390,"y":278},{"g":10,"x":400,"y":274},{"g":10,"x":409,"y":267},{"g":10,"x":414,"y":290},{"g":10,"x":419,"y":310},{"g":10,"x":424,"y":319},{"g":10,"x":430,"y":309},{"g":10,"x":435,"y":299},{"g":10,"x":441,"y":293},{"g":10,"x":447,"y":290},
{"g":11,"x":476,"y":282},{"g":11,"x":490,"y":283},{"g":11,"x":505,"y":286},{"g":11,"x":515,"y":290},{"g":11,"x":522,"y":295},{"g":11,"x":530,"y":292},{"g":11,"x":538,"y":290},{"g":11,"x":545,"y":296},{"g":11,"x":551,"y":304},{"g":11,"x":557,"y":297},{"g":11,"x":563,"y":289},{"g":11,"x":570,"y":286},{"g":11,"x":590,"y":286},{"g":11,"x":620,"y":287},{"g":11,"x":650,"y":287},
{"g":12,"x":361,"y":242},{"g":12,"x":375,"y":241},{"g":12,"x":390,"y":237},{"g":12,"x":400,"y":233},{"g":12,"x":408,"y":224},{"g":12,"x":413,"y":245},{"g":12,"x":419,"y":268},{"g":12,"x":424,"y":279},{"g":12,"x":430,"y":268},{"g":12,"x":435,"y":256},{"g":12,"x":441,"y":250},{"g":12,"x":447,"y":248},
{"g":13,"x":476,"y":234},{"g":13,"x":485,"y":237},{"g":13,"x":495,"y":241},{"g":13,"x":505,"y":246},{"g":13,"x":512,"y":251},{"g":13,"x":522,"y":256},{"g":13,"x":530,"y":252},{"g":13,"x":537,"y":249},{"g":13,"x":544,"y":256},{"g":13,"x":551,"y":267},{"g":13,"x":557,"y":257},{"g":13,"x":563,"y":249},{"g":13,"x":570,"y":246},{"g":13,"x":590,"y":247},{"g":13,"x":620,"y":248},{"g":13,"x":650,"y":248},
{"g":14,"x":361,"y":207},{"g":14,"x":375,"y":205},{"g":14,"x":390,"y":200},{"g":14,"x":400,"y":195},{"g":14,"x":408,"y":187},{"g":14,"x":413,"y":203},{"g":14,"x":419,"y":222},{"g":14,"x":424,"y":231},{"g":14,"x":430,"y":222},{"g":14,"x":435,"y":213},{"g":14,"x":441,"y":203},{"g":14,"x":447,"y":199},
{"g":15,"x":476,"y":191},{"g":15,"x":485,"y":195},{"g":15,"x":495,"y":199},{"g":15,"x":505,"y":203},{"g":15,"x":512,"y":207},{"g":15,"x":522,"y":210},{"g":15,"x":530,"y":207},{"g":15,"x":537,"y":204},{"g":15,"x":544,"y":210},{"g":15,"x":551,"y":221},{"g":15,"x":557,"y":212},{"g":15,"x":563,"y":206},{"g":15,"x":570,"y":207},{"g":15,"x":590,"y":208},{"g":15,"x":620,"y":208},{"g":15,"x":650,"y":209},
{"g":16,"x":361,"y":174},{"g":16,"x":366,"y":181},{"g":16,"x":372,"y":183},{"g":16,"x":380,"y":180},{"g":16,"x":390,"y":173},{"g":16,"x":400,"y":165},{"g":16,"x":408,"y":154},{"g":16,"x":414,"y":160},{"g":16,"x":419,"y":167},{"g":16,"x":423,"y":171},{"g":16,"x":430,"y":166},{"g":16,"x":437,"y":160},{"g":16,"x":447,"y":152},
{"g":17,"x":476,"y":144},{"g":17,"x":485,"y":151},{"g":17,"x":495,"y":158},{"g":17,"x":510,"y":163},{"g":17,"x":525,"y":166},{"g":17,"x":540,"y":167},{"g":17,"x":551,"y":174},{"g":17,"x":560,"y":168},{"g":17,"x":575,"y":168},{"g":17,"x":600,"y":170},{"g":17,"x":625,"y":170},{"g":17,"x":650,"y":170},
{"g":18,"x":361,"y":137},{"g":18,"x":366,"y":144},{"g":18,"x":372,"y":146},{"g":18,"x":380,"y":143},{"g":18,"x":390,"y":136},{"g":18,"x":400,"y":127},{"g":18,"x":408,"y":115},{"g":18,"x":414,"y":120},{"g":18,"x":419,"y":124},{"g":18,"x":423,"y":125},{"g":18,"x":430,"y":120},{"g":18,"x":437,"y":114},{"g":18,"x":447,"y":106},
{"g":19,"x":476,"y":102},{"g":19,"x":485,"y":110},{"g":19,"x":495,"y":117},{"g":19,"x":510,"y":122},{"g":19,"x":525,"y":124},{"g":19,"x":540,"y":126},{"g":19,"x":551,"y":132},{"g":19,"x":560,"y":127},{"g":19,"x":575,"y":128},{"g":19,"x":600,"y":129},{"g":19,"x":625,"y":129},{"g":19,"x":650,"y":129},
{"g":20,"x":361,"y":98},{"g":20,"x":366,"y":105},{"g":20,"x":371,"y":107},{"g":20,"x":380,"y":103},{"g":20,"x":390,"y":94},{"g":20,"x":400,"y":84},{"g":20,"x":410,"y":77},{"g":20,"x":415,"y":80},{"g":20,"x":419,"y":82},{"g":20,"x":425,"y":79},{"g":20,"x":432,"y":75},{"g":20,"x":440,"y":70},{"g":20,"x":447,"y":67},
{"g":21,"x":476,"y":61},{"g":21,"x":485,"y":68},{"g":21,"x":495,"y":74},{"g":21,"x":510,"y":81},{"g":21,"x":525,"y":84},{"g":21,"x":540,"y":86},{"g":21,"x":552,"y":90},{"g":21,"x":560,"y":87},{"g":21,"x":580,"y":88},{"g":21,"x":600,"y":89},{"g":21,"x":625,"y":89},{"g":21,"x":650,"y":89},
{"g":22,"x":361,"y":64},{"g":22,"x":366,"y":66},{"g":22,"x":371,"y":67},{"g":22,"x":380,"y":64},{"g":22,"x":390,"y":57},{"g":22,"x":400,"y":48},{"g":22,"x":408,"y":39},{"g":22,"x":413,"y":38},{"g":22,"x":418,"y":41},{"g":22,"x":425,"y":36},{"g":22,"x":432,"y":31},{"g":22,"x":440,"y":28},{"g":22,"x":447,"y":26},
{"g":23,"x":476,"y":21},{"g":23,"x":485,"y":31},{"g":23,"x":495,"y":38},{"g":23,"x":510,"y":41},{"g":23,"x":525,"y":43},{"g":23,"x":540,"y":44},{"g":23,"x":552,"y":46},{"g":23,"x":570,"y":46},{"g":23,"x":600,"y":47},{"g":23,"x":625,"y":47},{"g":23,"x":650,"y":49}
],
"bands": [
{"p":1,"a":410.5,"b":442},{"p":1,"a":527.5,"b":560.5},
{"p":2,"a":404,"b":437.5},{"p":2,"a":536,"b":569.5},
{"p":3,"a":401.5,"b":434},{"p":3,"a":536,"b":568},
{"p":4,"a":408,"b":440},{"p":4,"a":539,"b":570}
],
"bases": [
{"p":1,"y":494},{"p":1,"y":451},{"p":1,"y":407},{"p":1,"y":365},{"p":1,"y":322},{"p":1,"y":278},{"p":1,"y":235},{"p":1,"y":192},{"p":1,"y":149},{"p":1,"y":106},{"p":1,"y":62},
{"p":2,"y":494},{"p":2,"y":451},{"p":2,"y":407},{"p":2,"y":365},{"p":2,"y":322},{"p":2,"y":278},{"p":2,"y":235},{"p":2,"y":192},{"p":2,"y":149},{"p":2,"y":106},{"p":2,"y":62},
{"p":3,"y":501},{"p":3,"y":456},{"p":3,"y":411},{"p":3,"y":366},{"p":3,"y":321},{"p":3,"y":275},{"p":3,"y":229},{"p":3,"y":183},{"p":3,"y":138},{"p":3,"y":93},
{"p":4,"y":496},{"p":4,"y":453},{"p":4,"y":412},{"p":4,"y":371},{"p":4,"y":330},{"p":4,"y":288},{"p":4,"y":247},{"p":4,"y":206},{"p":4,"y":165},{"p":4,"y":124},{"p":4,"y":83},{"p":4,"y":41}
],
"labels": [
{"p":1,"t":"960 μs","x":642,"y":482},{"p":1,"t":"50 μs","x":642,"y":439},{"p":1,"t":"10 μs","x":642,"y":394},{"p":1,"t":"1 μs","x":642,"y":352},{"p":1,"t":"500 ns","x":642,"y":307},{"p":1,"t":"100 ns","x":642,"y":267},{"p":1,"t":"10 ns","x":642,"y":234},{"p":1,"t":"1 ns","x":642,"y":191},{"p":1,"t":"500 ps","x":642,"y":139},{"p":1,"t":"100 ps","x":642,"y":106},{"p":1,"t":"5 ps","x":642,"y":67},
{"p":2,"t":"960 μs","x":644.5,"y":481},{"p":2,"t":"50 μs","x":644.5,"y":436},{"p":2,"t":"10 μs","x":644.5,"y":391},{"p":2,"t":"1 μs","x":644.5,"y":349},{"p":2,"t":"500 ns","x":644.5,"y":304},{"p":2,"t":"100 ns","x":644.5,"y":264},{"p":2,"t":"10 ns","x":644.5,"y":231},{"p":2,"t":"1 ns","x":644.5,"y":192},{"p":2,"t":"500 ps","x":644.5,"y":144},{"p":2,"t":"100 ps","x":644.5,"y":104},{"p":2,"t":"5 ps","x":644.5,"y":59},
{"p":3,"t":"960 μs","x":645.5,"y":471},{"p":3,"t":"50 μs","x":645.5,"y":426},{"p":3,"t":"1 μs","x":645.5,"y":386},{"p":3,"t":"500 ns","x":645.5,"y":346},{"p":3,"t":"200 ns","x":645.5,"y":306},{"p":3,"t":"100 ns","x":645.5,"y":267},{"p":3,"t":"10 ns","x":645.5,"y":212},{"p":3,"t":"1 ns","x":645.5,"y":172},{"p":3,"t":"500 ps","x":645.5,"y":137},{"p":3,"t":"100 ps","x":645.5,"y":96},
{"p":4,"t":"500 μs","x":641.5,"y":481},{"p":4,"t":"100 μs","x":641.5,"y":439},{"p":4,"t":"10 μs","x":641.5,"y":397},{"p":4,"t":"1 μs","x":641.5,"y":357},{"p":4,"t":"500 ns","x":641.5,"y":316},{"p":4,"t":"100 ns","x":641.5,"y":272},{"p":4,"t":"30 ns","x":641.5,"y":236},{"p":4,"t":"10 ns","x":641.5,"y":197},{"p":4,"t":"1 ns","x":641.5,"y":158},{"p":4,"t":"500 ps","x":641.5,"y":117},{"p":4,"t":"100 ps","x":641.5,"y":76},{"p":4,"t":"10 ps","x":641.5,"y":34}
],
"bars": [
{"p":1,"x":288.6,"xa":278,"xb":299,"lo":444,"hi":533,"tx":267,"ty":488,"label":"0.001"},
{"p":4,"x":671.7,"xa":663.6,"xb":679.8,"lo":433,"hi":505,"tx":687.5,"ty":469,"label":"0.005"}
]
},
"hconcat": [
{
"width": 237, "height": 522,
"title": {"text": "Ru293-MtrC", "color": "#0A0AF0", "dy": 17},
"layer": [
{"data": {"name": "bands"}, "transform": [{"filter": "datum.p===1"}], "mark": {"type": "rect", "color": "#FDD76A"},
 "encoding": {"x": {"field": "a", "type": "quantitative", "scale": {"domain": [348, 652], "nice": false, "zero": false}}, "x2": {"field": "b"},
  "y": {"datum": 1.5, "type": "quantitative", "scale": {"domain": [0, 522], "nice": false, "zero": false}}, "y2": {"datum": 520.5}}},
{"data": {"name": "bases"}, "transform": [{"filter": "datum.p===1"}], "mark": {"type": "rule", "color": "#BBBBBB", "strokeDash": [7, 6], "strokeWidth": 1.5},
 "encoding": {"y": {"field": "y", "type": "quantitative", "scale": {"domain": [0, 522], "nice": false, "zero": false}}}},
{"data": {"name": "c1"}, "mark": {"type": "line", "strokeWidth": 1.9, "strokeJoin": "round"},
 "encoding": {
  "x": {"field": "x", "type": "quantitative", "scale": {"domain": [348, 652], "nice": false, "zero": false},
   "axis": {"title": "Wavelength /nm", "values": [400, 450, 500, 550, 600], "labelExpr": "datum.value % 100 === 0 ? datum.label : ''", "grid": false, "tickSize": -6, "tickColor": "black", "tickWidth": 1.5, "domainColor": "black", "domainWidth": 2.5, "labelFontSize": 16, "labelColor": "#444444", "labelPadding": 17, "labelFlush": false, "titleFontSize": 23, "titleFontWeight": "normal", "titleColor": "#222222", "titlePadding": 11, "zindex": 1}},
  "y": {"field": "y", "type": "quantitative", "scale": {"domain": [0, 522], "nice": false, "zero": false},
   "axis": {"title": "Normalized ΔAbsorbance /mOD", "labels": false, "ticks": false, "grid": false, "domainColor": "black", "domainWidth": 2.5, "titleFontSize": 23, "titleFontWeight": "normal", "titleColor": "#222222", "titlePadding": 13, "zindex": 1}},
  "detail": {"field": "g"},
  "color": {"condition": {"test": "datum.g===0", "value": "#777777"}, "value": "black"}}},
{"data": {"name": "labels"}, "transform": [{"filter": "datum.p===1"}], "mark": {"type": "text", "align": "right", "baseline": "middle", "fontSize": 18, "color": "black"},
 "encoding": {"x": {"field": "x", "type": "quantitative", "scale": {"domain": [348, 652], "nice": false, "zero": false}},
  "y": {"field": "y", "type": "quantitative", "scale": {"domain": [0, 522], "nice": false, "zero": false}}, "text": {"field": "t"}}},
{"data": {"name": "bars"}, "transform": [{"filter": "datum.p===1"}], "mark": {"type": "rule", "color": "black", "strokeWidth": 2.5},
 "encoding": {"x": {"field": "x", "type": "quantitative"}, "y": {"field": "lo", "type": "quantitative"}, "y2": {"field": "hi"}}},
{"data": {"name": "bars"}, "transform": [{"filter": "datum.p===1"}], "mark": {"type": "rule", "color": "black", "strokeWidth": 2.5},
 "encoding": {"x": {"field": "xa", "type": "quantitative"}, "x2": {"field": "xb"}, "y": {"field": "lo", "type": "quantitative"}}},
{"data": {"name": "bars"}, "transform": [{"filter": "datum.p===1"}], "mark": {"type": "rule", "color": "black", "strokeWidth": 2.5},
 "encoding": {"x": {"field": "xa", "type": "quantitative"}, "x2": {"field": "xb"}, "y": {"field": "hi", "type": "quantitative"}}},
{"data": {"name": "bars"}, "transform": [{"filter": "datum.p===1"}], "mark": {"type": "text", "angle": 270, "align": "center", "baseline": "middle", "fontSize": 18, "color": "#222222"},
 "encoding": {"x": {"field": "tx", "type": "quantitative"}, "y": {"field": "ty", "type": "quantitative"}, "text": {"field": "label"}}}
]
},
{
"width": 237, "height": 522,
"title": {"text": "Ru301-MtrC", "color": "#0FA39B", "dy": 5},
"layer": [
{"data": {"name": "bands"}, "transform": [{"filter": "datum.p===2"}], "mark": {"type": "rect", "color": "#FDD76A"},
 "encoding": {"x": {"field": "a", "type": "quantitative", "scale": {"domain": [347, 653], "nice": false, "zero": false}}, "x2": {"field": "b"},
  "y": {"datum": 1.5, "type": "quantitative", "scale": {"domain": [0, 522], "nice": false, "zero": false}, "axis": null}, "y2": {"datum": 520.5}}},
{"data": {"name": "bases"}, "transform": [{"filter": "datum.p===2"}], "mark": {"type": "rule", "color": "#BBBBBB", "strokeDash": [7, 6], "strokeWidth": 1.5},
 "encoding": {"y": {"field": "y", "type": "quantitative", "scale": {"domain": [0, 522], "nice": false, "zero": false}, "axis": null}}},
{"data": {"name": "c2"}, "mark": {"type": "line", "strokeWidth": 1.9, "strokeJoin": "round", "color": "black"},
 "encoding": {
  "x": {"field": "x", "type": "quantitative", "scale": {"domain": [347, 653], "nice": false, "zero": false},
   "axis": {"title": "Wavelength /nm", "values": [400, 450, 500, 550, 600], "labelExpr": "datum.value % 100 === 0 ? datum.label : ''", "grid": false, "tickSize": -6, "tickColor": "black", "tickWidth": 1.5, "domainColor": "black", "domainWidth": 2.5, "labelFontSize": 16, "labelColor": "#444444", "labelPadding": 17, "labelFlush": false, "titleFontSize": 23, "titleFontWeight": "normal", "titleColor": "#222222", "titlePadding": 11, "zindex": 1}},
  "y": {"field": "y", "type": "quantitative", "scale": {"domain": [0, 522], "nice": false, "zero": false}, "axis": null},
  "detail": {"field": "g"}}},
{"data": {"name": "labels"}, "transform": [{"filter": "datum.p===2"}], "mark": {"type": "text", "align": "right", "baseline": "middle", "fontSize": 18, "color": "black"},
 "encoding": {"x": {"field": "x", "type": "quantitative", "scale": {"domain": [347, 653], "nice": false, "zero": false}},
  "y": {"field": "y", "type": "quantitative", "scale": {"domain": [0, 522], "nice": false, "zero": false}, "axis": null}, "text": {"field": "t"}}}
]
},
{
"width": 237, "height": 522,
"title": {"text": "Ru648-MtrC", "color": "#111111", "dy": 5},
"layer": [
{"data": {"name": "bands"}, "transform": [{"filter": "datum.p===3"}], "mark": {"type": "rect", "color": "#FDD76A"},
 "encoding": {"x": {"field": "a", "type": "quantitative", "scale": {"domain": [356.5, 653], "nice": false, "zero": false}}, "x2": {"field": "b"},
  "y": {"datum": 1.5, "type": "quantitative", "scale": {"domain": [0, 522], "nice": false, "zero": false}, "axis": null}, "y2": {"datum": 520.5}}},
{"data": {"name": "bases"}, "transform": [{"filter": "datum.p===3"}], "mark": {"type": "rule", "color": "#BBBBBB", "strokeDash": [7, 6], "strokeWidth": 1.5},
 "encoding": {"y": {"field": "y", "type": "quantitative", "scale": {"domain": [0, 522], "nice": false, "zero": false}, "axis": null}}},
{"data": {"name": "c3"}, "mark": {"type": "line", "strokeWidth": 1.9, "strokeJoin": "round"},
 "encoding": {
  "x": {"field": "x", "type": "quantitative", "scale": {"domain": [356.5, 653], "nice": false, "zero": false},
   "axis": {"title": "Wavelength /nm", "values": [400, 450, 500, 550, 600], "labelExpr": "datum.value % 100 === 0 ? datum.label : ''", "grid": false, "tickSize": -6, "tickColor": "black", "tickWidth": 1.5, "domainColor": "black", "domainWidth": 2.5, "labelFontSize": 16, "labelColor": "#444444", "labelPadding": 17, "labelFlush": false, "titleFontSize": 23, "titleFontWeight": "normal", "titleColor": "#222222", "titlePadding": 11, "zindex": 1}},
  "y": {"field": "y", "type": "quantitative", "scale": {"domain": [0, 522], "nice": false, "zero": false}, "axis": null},
  "detail": {"field": "g"},
  "color": {"condition": {"test": "datum.g===19", "value": "#555555"}, "value": "black"}}},
{"data": {"name": "labels"}, "transform": [{"filter": "datum.p===3"}], "mark": {"type": "text", "align": "right", "baseline": "middle", "fontSize": 18, "color": "black"},
 "encoding": {"x": {"field": "x", "type": "quantitative", "scale": {"domain": [356.5, 653], "nice": false, "zero": false}},
  "y": {"field": "y", "type": "quantitative", "scale": {"domain": [0, 522], "nice": false, "zero": false}, "axis": null}, "text": {"field": "t"}}}
]
},
{
"width": 30, "height": 522,
"data": {"values": [{"v": 0}]},
"mark": {"type": "text", "text": ""},
"view": {"stroke": null}
},
{
"width": 237, "height": 522,
"title": {"text": "Ru657-MtrC", "color": "#F01010", "dy": 5},
"layer": [
{"data": {"name": "bands"}, "transform": [{"filter": "datum.p===4"}], "mark": {"type": "rect", "color": "#FDD76A"},
 "encoding": {"x": {"field": "a", "type": "quantitative", "scale": {"domain": [360.5, 649.5], "nice": false, "zero": false}}, "x2": {"field": "b"},
  "y": {"datum": 1.5, "type": "quantitative", "scale": {"domain": [0, 522], "nice": false, "zero": false}}, "y2": {"datum": 520.5}}},
{"data": {"name": "bases"}, "transform": [{"filter": "datum.p===4"}], "mark": {"type": "rule", "color": "#BBBBBB", "strokeDash": [7, 6], "strokeWidth": 1.5},
 "encoding": {"y": {"field": "y", "type": "quantitative", "scale": {"domain": [0, 522], "nice": false, "zero": false}}}},
{"data": {"name": "c4"}, "mark": {"type": "line", "strokeWidth": 1.8, "interpolate": "monotone", "color": "#1a1a1a"},
 "encoding": {
  "x": {"field": "x", "type": "quantitative", "scale": {"domain": [360.5, 649.5], "nice": false, "zero": false},
   "axis": {"title": "Wavelength /nm", "values": [400, 450, 500, 550, 600], "labelExpr": "datum.value % 100 === 0 ? datum.label : ''", "grid": false, "tickSize": -6, "tickColor": "black", "tickWidth": 1.5, "domainColor": "black", "domainWidth": 2.5, "labelFontSize": 16, "labelColor": "#444444", "labelPadding": 17, "labelFlush": false, "titleFontSize": 23, "titleFontWeight": "normal", "titleColor": "#222222", "titlePadding": 11, "zindex": 1}},
  "y": {"field": "y", "type": "quantitative", "scale": {"domain": [0, 522], "nice": false, "zero": false},
   "axis": {"title": "Normalized ΔAbsorbance /mOD", "labels": false, "ticks": false, "grid": false, "domainColor": "black", "domainWidth": 2.5, "titleFontSize": 23, "titleFontWeight": "normal", "titleColor": "#222222", "titlePadding": 13, "zindex": 1}},
  "detail": {"field": "g"}}},
{"data": {"name": "labels"}, "transform": [{"filter": "datum.p===4"}], "mark": {"type": "text", "align": "right", "baseline": "middle", "fontSize": 18, "color": "black"},
 "encoding": {"x": {"field": "x", "type": "quantitative", "scale": {"domain": [360.5, 649.5], "nice": false, "zero": false}},
  "y": {"field": "y", "type": "quantitative", "scale": {"domain": [0, 522], "nice": false, "zero": false}}, "text": {"field": "t"}}},
{"data": {"name": "bars"}, "transform": [{"filter": "datum.p===4"}], "mark": {"type": "rule", "color": "black", "strokeWidth": 2.5},
 "encoding": {"x": {"field": "x", "type": "quantitative"}, "y": {"field": "lo", "type": "quantitative"}, "y2": {"field": "hi"}}},
{"data": {"name": "bars"}, "transform": [{"filter": "datum.p===4"}], "mark": {"type": "rule", "color": "black", "strokeWidth": 2.5},
 "encoding": {"x": {"field": "xa", "type": "quantitative"}, "x2": {"field": "xb"}, "y": {"field": "lo", "type": "quantitative"}}},
{"data": {"name": "bars"}, "transform": [{"filter": "datum.p===4"}], "mark": {"type": "rule", "color": "black", "strokeWidth": 2.5},
 "encoding": {"x": {"field": "xa", "type": "quantitative"}, "x2": {"field": "xb"}, "y": {"field": "hi", "type": "quantitative"}}},
{"data": {"name": "bars"}, "transform": [{"filter": "datum.p===4"}], "mark": {"type": "text", "angle": 90, "align": "center", "baseline": "middle", "fontSize": 18, "color": "#222222"},
 "encoding": {"x": {"field": "tx", "type": "quantitative"}, "y": {"field": "ty", "type": "quantitative"}, "text": {"field": "label"}}}
]
}
],
"config": {
"font": "Liberation Sans",
"view": {"stroke": "black", "strokeWidth": 2.5},
"title": {"fontSize": 27, "fontWeight": "normal", "offset": 10, "baseline": "alphabetic", "anchor": "middle", "font": "Liberation Sans"}
}
}
